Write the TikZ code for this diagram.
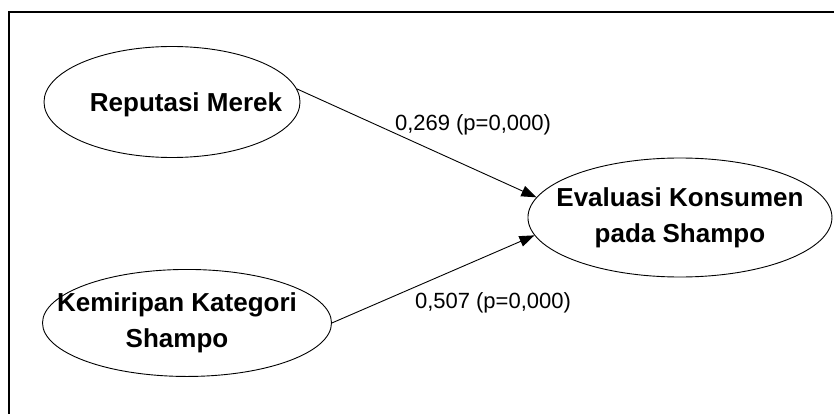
\documentclass[tikz,border=0pt]{standalone}
\usepackage{fontspec}
\setmainfont{Liberation Sans}
\usetikzlibrary{shapes.geometric,arrows.meta}

\begin{document}
\begin{tikzpicture}[x=1pt,y=-1pt,
  latent/.style={ellipse,draw,line width=0.9pt,inner sep=0pt},
  vartext/.style={font=\fontsize{26}{36}\selectfont\bfseries,align=center,inner sep=0pt},
  coef/.style={font=\fontsize{22}{24}\selectfont,inner sep=0pt},
  path/.style={-{Triangle[length=15pt,width=11pt]},line width=0.9pt}]
  \useasboundingbox (0,0) rectangle (834,414);
  % frame
  \draw[line width=1.3pt] (9,414) -- (9,12) -- (834,12);
  % exogenous
  \node[latent,minimum width=256pt,minimum height=111pt] (rep) at (172,102) {};
  \node[latent,minimum width=289pt,minimum height=107pt] (kem) [below of=rep,xshift=15pt,yshift=-192.5pt] {};
  % endogenous
  \node[latent,minimum width=304pt,minimum height=119pt] (eva) [right of=rep,xshift=479.5pt,yshift=-115.5pt] {};
  % texts
  \node[vartext] (repT) at ([xshift=14pt,yshift=-3pt]rep.center) {Reputasi Merek};
  \node[vartext] (kemT) at ([xshift=-10pt]kem.center) {Kemiripan Kategori\\Shampo};
  \node[vartext] (evaT) at (eva.center) {Evaluasi Konsumen\\pada Shampo};
  % paths
  \draw[path] (rep.6) -- (eva.172);
  \draw[path] (kem.east) -- (eva.187);
  \node[coef] (c269) at (473,125) {0,269 (p=0,000)};
  \node[coef] (c507) at (493,303) {0,507 (p=0,000)};
\end{tikzpicture}
\end{document}
